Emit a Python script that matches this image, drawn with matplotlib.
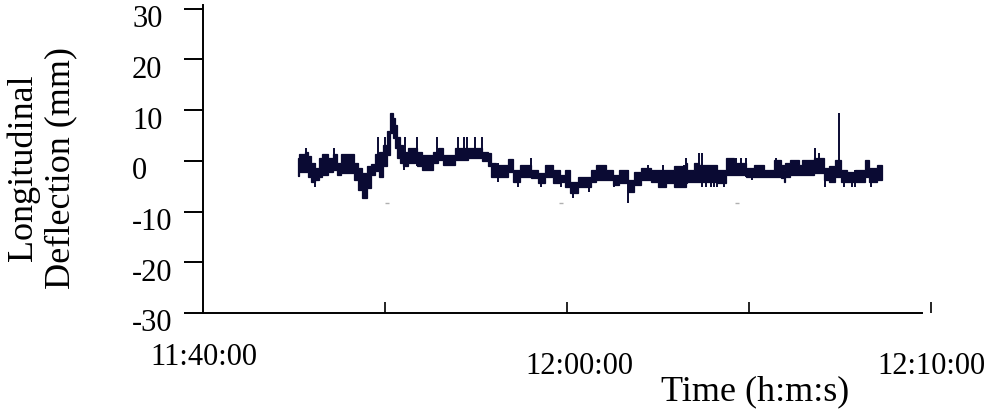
import numpy as np
import matplotlib
matplotlib.use("Agg")
import matplotlib.pyplot as plt
from matplotlib.transforms import blended_transform_factory, offset_copy

# ---------------------------------------------------------------- data
# time in minutes after 11:40:00, deflection in mm
edges = [5.22, 5.29, 5.62, 5.77, 5.95, 6.17, 6.36, 6.54, 6.87, 7.13, 7.36,
         7.60, 8.28, 8.52, 8.74, 9.01, 9.25, 9.43, 9.69, 9.87, 10.11, 10.29,
         10.42, 10.55, 10.68, 10.82, 11.01, 11.28, 11.74, 12.02, 12.65, 12.93,
         13.20, 13.85, 14.58, 15.31, 15.68, 15.84, 16.12, 16.76, 17.03, 17.40,
         18.04, 18.41, 18.77, 19.23, 19.60, 19.87, 20.15, 20.60, 21.15, 21.32,
         21.59, 22.14, 22.51, 22.87, 23.34, 23.70, 24.07, 24.62, 24.98, 25.44,
         25.90, 26.54, 26.61, 26.98, 27.25, 28.26, 28.72, 29.18, 29.82, 30.27,
         30.82, 31.37, 31.74, 31.92, 32.00, 32.27, 32.73, 32.91, 33.55, 34.10,
         34.38, 34.74, 35.04, 35.38, 35.84, 36.39, 36.58, 37.03, 37.31]

upper = [0.5, 1.3, 1.8, 0.9, -0.5, -1.5, 0.5, 1.3, 0.5, 1.3,
         -0.5, 1.3, -0.5, -1.5, -2.4, -1.1, -0.7, 1.3, 1.8, 3.2,
         5.8, 9.4, 8.4, 7.1, 4.8, 3.2, 1.8, 2.6, 1.8, 1.2,
         1.8, 2.6, 1.2, 2.6, 2.5, 1.8, 1.5, -0.5, -0.8, 0.4,
         -1.8, -0.8, -1.8, -2.4, -0.8, -1.8, -2.8, -1.8, -4.1, -3.1,
         -3.1, -1.8, -0.8, -1.8, -2.8, -1.8, -3.8, -2.1, -1.5, -1.8,
         -1.8, -1.8, -1.1, -0.5, -1.8, -0.5, -0.8, -1.8, 0.5, -0.5,
         -1.5, -0.8, -1.8, 0.2, -0.8, -1.8, -0.5, 0.2, -0.8, 0.2,
         0.5, -1.5, -1.1, 0.2, -1.8, -2.1, -1.8, 0.2, -1.5, -0.8]

lower = [-2.9, -2.1, -2.1, -3.1, -4.1, -3.8, -3.1, -2.8, -2.1, -1.8,
         -2.8, -2.4, -3.8, -5.7, -7.4, -5.4, -2.8, -2.0, -3.1, -1.1,
         1.2, 5.5, 4.5, 2.5, 0.5, -0.5, -1.1, -0.5, -1.1, -1.8,
         -0.5, 0.2, -0.8, 0.2, 0.5, -0.1, -1.1, -3.1, -3.1, -2.1,
         -4.1, -3.1, -3.4, -4.4, -3.1, -4.4, -4.1, -5.1, -6.4, -5.1,
         -5.1, -4.1, -3.8, -3.8, -4.7, -4.4, -6.1, -4.7, -3.8, -4.1,
         -5.1, -4.4, -5.1, -4.4, -4.1, -4.1, -4.1, -4.4, -2.8, -2.8,
         -3.1, -3.1, -3.1, -3.1, -3.4, -4.1, -3.1, -2.8, -2.8, -2.8,
         -2.4, -3.8, -4.1, -3.1, -4.1, -4.1, -4.1, -3.1, -4.1, -3.8]

# single-sample spikes: time, low, high
spike_t = [5.66, 6.14, 7.18, 9.62, 10.02, 11.04, 11.10, 11.74, 12.84, 14.03,
           14.34, 14.52, 14.95, 15.31, 16.21, 17.31, 18.04, 18.59, 19.69, 20.33,
           21.23, 22.60, 23.34, 24.43, 25.26, 26.45, 26.52, 27.25, 27.43, 27.62,
           27.90, 28.08, 28.26, 28.63, 29.27, 29.54, 29.82, 30.18, 31.47, 33.64,
           33.83, 34.19, 34.96, 35.20, 35.66, 35.84, 36.72]
spike_lo = [-2.1, -5.1, -1.8, -2.0, -1.1, -1.8, -1.1, -1.1, -0.5, 0.2,
            0.2, 0.2, 0.5, 0.5, -4.1, -5.1, -3.4, -5.1, -5.1, -7.4,
            -6.1, -5.1, -8.4, -3.8, -5.1, -5.1, -4.4, -4.1, -5.1, -5.1,
            -5.1, -5.1, -5.1, -5.1, -2.8, -2.8, -3.1, -3.8, -3.1, -2.4,
            -2.4, -5.1, -3.1, -5.1, -5.1, -5.1, -5.1]
spike_hi = [2.6, -0.5, 2.6, 4.8, 4.8, 1.8, 4.8, 4.8, 4.8, 4.8,
            4.8, 4.8, 4.8, 4.8, -0.5, -1.8, 0.5, -2.4, -2.8, -4.1,
            -3.1, -2.8, -1.8, -0.8, -0.8, -0.8, 0.5, 1.5, 1.5, -0.8,
            -0.8, -0.8, -1.8, -1.8, 0.5, 0.5, 0.5, -1.5, 0.5, 2.5,
            1.5, -1.5, 9.4, -1.8, -2.1, -1.8, -1.5]

# faint stray marks left in the original figure
stray_t = [10.09, 19.69, 29.36]
stray_v = [-8.3, -8.3, -8.3]

yticks = [-30, -20, -10, 0, 10, 20, 30]
ytick_labels = ["-30", "-20", "-10", "0", "10", "20", "30"]
xticks = [10, 20, 30, 40]
time_labels = ["11:40:00", "12:00:00", "12:10:00"]
time_label_t = [0.05, 20.7, 40.0]
time_label_v = [-38.7, -40.6, -40.6]

# ---------------------------------------------------------------- plot
plt.rcParams["font.family"] = ["Liberation Serif", "DejaVu Serif"]
INK = "#0a0a33"

fig = plt.figure(figsize=(9.9, 4.12), dpi=100)
ax = fig.add_axes([0.2051, 0.2403, 0.7444, 0.7483])
ax.set_xlim(0, 40.49)
ax.set_ylim(-30, 30.8)

ax.stairs(upper, edges, baseline=lower, fill=True, facecolor=INK,
          edgecolor=INK, lw=0.9)
ax.vlines(spike_t, spike_lo, spike_hi, color=INK, lw=1.4)
ax.plot(stray_t, stray_v, ls="none", marker="_", ms=3, mew=1, color="#b0b0b0")

for side in ("top", "right"):
    ax.spines[side].set_visible(False)
ax.spines["left"].set_linewidth(1.4)
ax.spines["bottom"].set_linewidth(1.4)
ax.spines["bottom"].set_bounds(0, 39.48)

ax.set_yticks(yticks)
ax.set_yticklabels([])
ax.tick_params(axis="y", direction="out", length=13.5, width=1.4)
ax.set_xticks(xticks)
ax.set_xticklabels([])
ax.tick_params(axis="x", direction="in", length=8, width=1.2)

# y tick labels: left aligned, sitting a little below their ticks
ylab_tr = offset_copy(blended_transform_factory(ax.transAxes, ax.transData),
                      fig=fig, x=0, y=-11, units="dots")
for v, lab in zip(yticks, ytick_labels):
    ax.text(-0.0963, v, lab, transform=ylab_tr, ha="left", va="center",
            fontsize=22, clip_on=False)

for t, v, lab in zip(time_label_t, time_label_v, time_labels):
    ax.text(t, v, lab, ha="center", va="center", fontsize=22, clip_on=False)

ax.text(30.33, -45.6, "Time (h:m:s)", ha="center", va="center",
        fontsize=26, clip_on=False)
fig.text(42 / 990, 1 - 168 / 412, "Longitudinal\nDeflection (mm)",
         rotation=90, ha="center", va="center", multialignment="center",
         fontsize=26, linespacing=1.2)

fig.savefig("out.png", dpi=100)
